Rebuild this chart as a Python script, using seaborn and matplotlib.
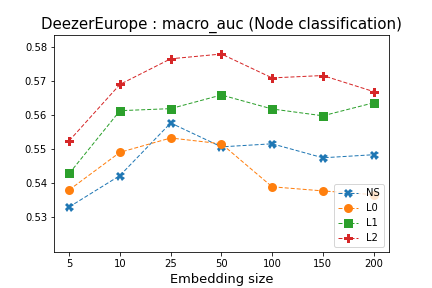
import pandas as pd
import matplotlib
matplotlib.use("Agg")
import matplotlib.pyplot as plt
import seaborn as sns

sizes = ["5", "10", "25", "50", "100", "150", "200"]
ns = [0.5330, 0.5422, 0.5576, 0.5506, 0.5515, 0.5474, 0.5483]
l0 = [0.5380, 0.5490, 0.5532, 0.5515, 0.5389, 0.5377, 0.5366]
l1 = [0.5428, 0.5612, 0.5618, 0.5658, 0.5617, 0.5597, 0.5635]
l2 = [0.5524, 0.5689, 0.5764, 0.5778, 0.5708, 0.5715, 0.5668]
methods = ["NS", "L0", "L1", "L2"]

rows = []
for name, vals in zip(methods, [ns, l0, l1, l2]):
    for s, v in zip(sizes, vals):
        rows.append({"size": s, "auc": v, "method": name})
df = pd.DataFrame(rows)

fig, ax = plt.subplots(figsize=(6, 4), dpi=72)
fig.subplots_adjust(left=0.125, right=0.9, top=0.88, bottom=0.125)

sns.lineplot(
    data=df, x="size", y="auc", hue="method", style="method",
    markers=["X", "o", "s", "P"], dashes=[(4, 2)] * 4,
    markersize=9, linewidth=1, markeredgewidth=0,
    palette=["#1f77b4", "#ff7f0e", "#2ca02c", "#d62728"],
    sort=False, ax=ax,
)
for line in ax.get_lines():
    line.set_alpha(1)

ax.set_ylim(0.5198, 0.5835)
ax.set_yticks([0.53, 0.54, 0.55, 0.56, 0.57, 0.58])
ax.set_title("DeezerEurope : macro_auc (Node classification)", fontsize=15)
ax.set_xlabel("Embedding size", fontsize=13)
ax.set_ylabel("")
ax.legend(loc="lower right", fontsize=10)

plt.savefig("out.png", dpi=72)
